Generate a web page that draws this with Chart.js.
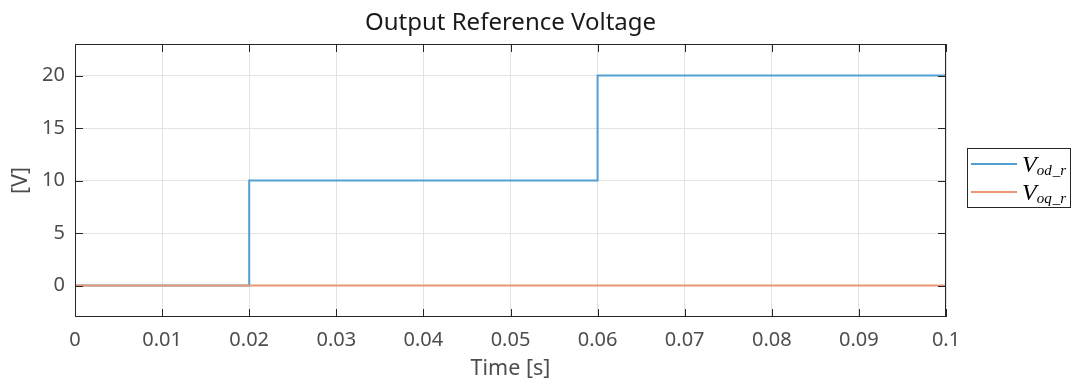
<!DOCTYPE html>
<html>
<head>
<meta charset="utf-8">
<script src="https://cdn.jsdelivr.net/npm/chart.js@4"></script>
<style>
  html, body { margin: 0; padding: 0; background: #fff; }
  #wrap { width: 1075px; height: 385px; position: relative; }
</style>
</head>
<body>
<div id="wrap"><canvas id="chart" width="1075" height="385"></canvas></div>
<script>
// step breakpoints
const timeS = [0, 0.02, 0.02, 0.06, 0.06, 0.1];
const vodRef = [0, 0, 10, 10, 20, 20];
const vqTime = [0, 0.1];
const vqRef = [0, 0];
const xTicks = [0, 0.01, 0.02, 0.03, 0.04, 0.05, 0.06, 0.07, 0.08, 0.09, 0.1];
const yTicks = [0, 5, 10, 15, 20];
const seriesNames = [["od", "r"], ["oq", "r"]];
const lineColors = ["#529fd2", "#e89875"];

const AREA = { left: 75, right: 946, top: 44, bottom: 317 };
const TICK_FONT = { family: "'Noto Sans', sans-serif", size: 20 };
const TEXT_GREY = "#4d4d4d";

const pts = (xs, ys) => xs.map((x, i) => ({ x, y: ys[i] }));

const decor = {
  id: "decor",
  afterDraw(chart) {
    const { ctx, chartArea: a, scales } = chart;
    ctx.save();
    // box
    ctx.strokeStyle = "#262626";
    ctx.lineWidth = 1;
    ctx.strokeRect(a.left + 0.5, a.top + 0.5, a.right - a.left - 1, a.bottom - a.top - 1);
    // inward ticks
    ctx.beginPath();
    xTicks.forEach((t) => {
      const px = Math.round(scales.x.getPixelForValue(t)) + 0.5;
      ctx.moveTo(px, a.bottom); ctx.lineTo(px, a.bottom - 8);
      ctx.moveTo(px, a.top); ctx.lineTo(px, a.top + 8);
    });
    yTicks.forEach((t) => {
      const py = Math.round(scales.y.getPixelForValue(t)) + 0.5;
      ctx.moveTo(a.left, py); ctx.lineTo(a.left + 8, py);
      ctx.moveTo(a.right, py); ctx.lineTo(a.right - 8, py);
    });
    ctx.stroke();

    // title
    ctx.fillStyle = "#1a1a1a";
    ctx.font = "24px 'Noto Sans', sans-serif";
    ctx.textAlign = "center";
    ctx.textBaseline = "middle";
    ctx.fillText("Output Reference Voltage", (a.left + a.right) / 2, 23);

    // axis titles
    ctx.fillStyle = TEXT_GREY;
    ctx.font = "21.5px 'Noto Sans', sans-serif";
    ctx.fillText("Time [s]", (a.left + a.right) / 2, 369);
    ctx.save();
    ctx.translate(21, (a.top + a.bottom) / 2);
    ctx.rotate(-Math.PI / 2);
    ctx.fillText("[V]", 0, 0);
    ctx.restore();

    // legend
    const lx = 967, ly = 148, lw = 104, lh = 60;
    ctx.fillStyle = "#fff";
    ctx.fillRect(lx, ly, lw, lh);
    ctx.strokeStyle = "#262626";
    ctx.strokeRect(lx + 0.5, ly + 0.5, lw - 1, lh - 1);
    const rows = [164, 192];
    rows.forEach((ry, i) => {
      ctx.strokeStyle = lineColors[i];
      ctx.lineWidth = 2;
      ctx.beginPath();
      ctx.moveTo(971, ry); ctx.lineTo(1017, ry);
      ctx.stroke();
      ctx.fillStyle = "#000";
      ctx.textAlign = "left";
      ctx.textBaseline = "alphabetic";
      ctx.font = "italic 24px 'Liberation Serif', serif";
      ctx.fillText("V", 1022, ry + 8);
      let x = 1022 + ctx.measureText("V").width;
      ctx.font = "italic 15px 'Liberation Serif', serif";
      const [sub1, sub2] = seriesNames[i];
      ctx.fillText(sub1, x, ry + 11);
      x += ctx.measureText(sub1).width + 1;
      ctx.font = "15px 'Liberation Serif', serif";
      ctx.fillText("_", x, ry + 11);
      x += ctx.measureText("_").width;
      ctx.font = "italic 15px 'Liberation Serif', serif";
      ctx.fillText(sub2, x, ry + 11);
    });
    ctx.restore();
  },
};

new Chart(document.getElementById("chart"), {
  type: "line",
  data: {
    datasets: [
      // orange drawn over blue, as in the figure
      { data: pts(timeS, vodRef), borderColor: lineColors[0], borderWidth: 2, order: 1 },
      { data: pts(vqTime, vqRef), borderColor: lineColors[1], borderWidth: 2.2, order: 0 },
    ],
  },
  options: {
    responsive: false,
    animation: false,
    events: [],
    layout: { padding: { left: 0, right: 1075 - AREA.right, top: AREA.top, bottom: 0 } },
    elements: { point: { radius: 0 }, line: { tension: 0 } },
    plugins: { legend: { display: false }, tooltip: { enabled: false }, title: { display: false } },
    scales: {
      x: {
        type: "linear",
        min: 0,
        max: 0.1,
        afterFit: (s) => { s.height = 385 - AREA.bottom; },
        afterBuildTicks: (s) => { s.ticks = xTicks.map((v) => ({ value: v })); },
        ticks: {
          color: TEXT_GREY,
          font: TICK_FONT,
          padding: 11,
          maxRotation: 0,
          callback: (v) => String(Number(v.toFixed(2))),
        },
        grid: { color: "#e3e3e3", lineWidth: 1, tickLength: 0, drawTicks: false },
        border: { display: false },
      },
      y: {
        min: -3,
        max: 23,
        afterFit: (s) => { s.width = AREA.left; },
        afterBuildTicks: (s) => { s.ticks = yTicks.map((v) => ({ value: v })); },
        ticks: { color: TEXT_GREY, font: TICK_FONT, padding: 10 },
        grid: { color: "#e3e3e3", lineWidth: 1, tickLength: 0, drawTicks: false },
        border: { display: false },
      },
    },
  },
  plugins: [decor],
});
</script>
</body>
</html>
